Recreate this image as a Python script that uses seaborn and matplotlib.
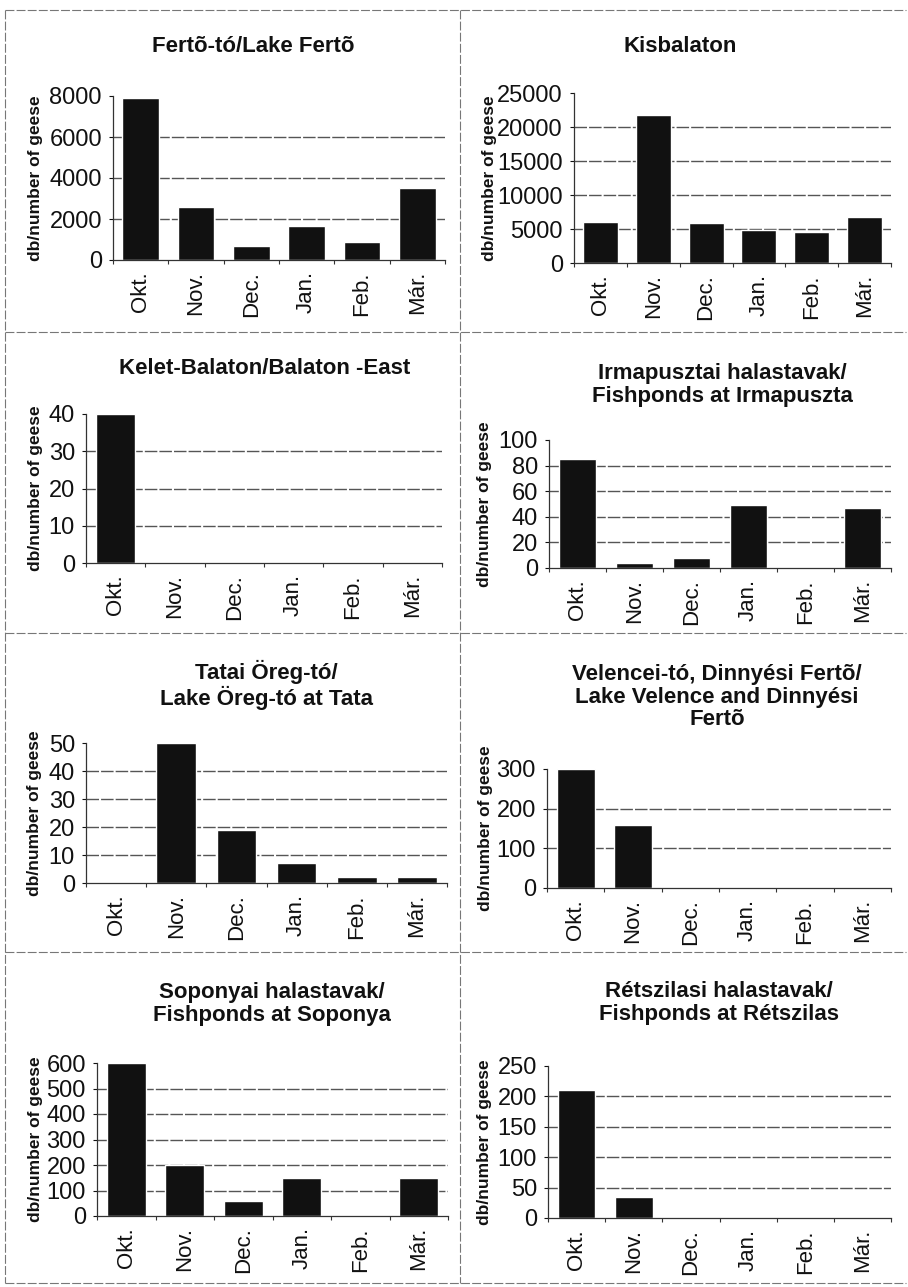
import numpy as np
import pandas as pd
import matplotlib
matplotlib.use("Agg")
import matplotlib.pyplot as plt
import seaborn as sns
from matplotlib.lines import Line2D

# ---------------- data ----------------
months = ["Okt.", "Nov.", "Dec.", "Jan.", "Feb.", "Már."]

ferto_to = [7900, 2600, 680, 1650, 900, 3500]
kisbalaton = [6000, 21700, 5900, 4900, 4600, 6800]
kelet_balaton = [40, 0, 0, 0, 0, 0]
irmapuszta = [85, 4, 8, 49, 0, 47]
tata = [0, 50, 19, 7, 2, 2]
velence = [300, 160, 0, 0, 0, 0]
soponya = [600, 200, 60, 150, 0, 150]
retszilas = [210, 35, 0, 0, 0, 0]

titles = [
    "Fertõ-tó/Lake Fertõ",
    "Kisbalaton",
    "Kelet-Balaton/Balaton -East",
    "Irmapusztai halastavak/\nFishponds at Irmapuszta",
    "Tatai Öreg-tó/\nLake Öreg-tó at Tata",
    "Velencei-tó, Dinnyési Fertõ/\nLake Velence and Dinnyési\nFertõ",
    "Soponyai halastavak/\nFishponds at Soponya",
    "Rétszilasi halastavak/\nFishponds at Rétszilas",
]
series = [ferto_to, kisbalaton, kelet_balaton, irmapuszta, tata, velence, soponya, retszilas]
y_max = [8000, 25000, 40, 100, 50, 300, 600, 250]
y_step = [2000, 5000, 10, 20, 10, 100, 100, 50]
y_label = "db/number of geese"

# ---------------- layout (pixels) ----------------
W, H = 908, 1287
axes_px = [  # left, top, right, bottom
    (113, 96, 445, 260),
    (574, 93, 891, 263),
    (86, 414, 442, 563),
    (549, 440, 891, 568),
    (86, 743, 447, 883),
    (547, 769, 891, 888),
    (97, 1063, 448, 1216),
    (548, 1066, 891, 1218),
]
title_px = [(253, 47), (680, 47), (265, 368), (722, 385), (266, 685),
            (717, 697), (272, 1004), (719, 1003)]
ylab_right_px = [43, 497, 43, 492, 42, 493, 43, 492]

sns.set_theme(style="white")
plt.rcParams["font.family"] = ["Liberation Sans", "DejaVu Sans"]
plt.rcParams["text.color"] = "#111111"
plt.rcParams["axes.labelcolor"] = "#111111"
plt.rcParams["xtick.color"] = "#111111"
plt.rcParams["ytick.color"] = "#111111"

fig = plt.figure(figsize=(W / 100, H / 100), dpi=100)
fig.patch.set_facecolor("white")

for i in range(8):
    l, t, r, b = axes_px[i]
    ax = fig.add_axes([l / W, 1 - b / H, (r - l) / W, (b - t) / H])
    df = pd.DataFrame({"month": months, "count": series[i]})
    sns.barplot(data=df, x="month", y="count", color="#111111", saturation=1,
                width=0.66, ax=ax, order=months)
    ax.set_xlim(-0.5, 5.5)
    ax.set_ylim(0, y_max[i])
    ticks = np.arange(0, y_max[i] + 1, y_step[i])
    ax.set_yticks(ticks)
    for v in ticks[1:-1]:
        ax.axhline(v, color="#555555", lw=1.0, ls=(0, (9, 1.5)), zorder=0.5)
    ax.set_xlabel("")
    ax.set_ylabel(y_label, fontsize=12.5, fontweight="bold")
    ax.yaxis.set_label_coords((ylab_right_px[i] - l) / (r - l), 0.5)
    for s in ["top", "right"]:
        ax.spines[s].set_visible(False)
    for s in ["left", "bottom"]:
        ax.spines[s].set_color("#333333")
        ax.spines[s].set_linewidth(0.9)
    ax.tick_params(axis="y", length=3, width=0.8, pad=5, labelsize=17, left=True)
    ax.tick_params(axis="x", which="major", length=0, pad=8, labelsize=16,
                   labelrotation=90)
    ax.set_xticks(np.arange(-0.5, 6, 1), minor=True)
    ax.tick_params(axis="x", which="minor", length=3, width=0.8, bottom=True,
                   color="#333333")
    ax.set_facecolor("none")
    tx, ty = title_px[i]
    fig.text(tx / W, 1 - ty / H, titles[i], ha="center", va="center",
             fontsize=16, fontweight="bold", linespacing=1.1)

# ---------------- cell borders ----------------
border = dict(color="#777777", lw=0.8, ls=(0, (8, 2)))
for y in [10, 332, 633, 952, 1283]:
    fig.add_artist(Line2D([5 / W, 906 / W], [1 - y / H, 1 - y / H], **border))
for x in [5, 460]:
    fig.add_artist(Line2D([x / W, x / W], [1 - 10 / H, 1 - 1283 / H], **border))

fig.savefig("out.png", dpi=100, facecolor="white")
